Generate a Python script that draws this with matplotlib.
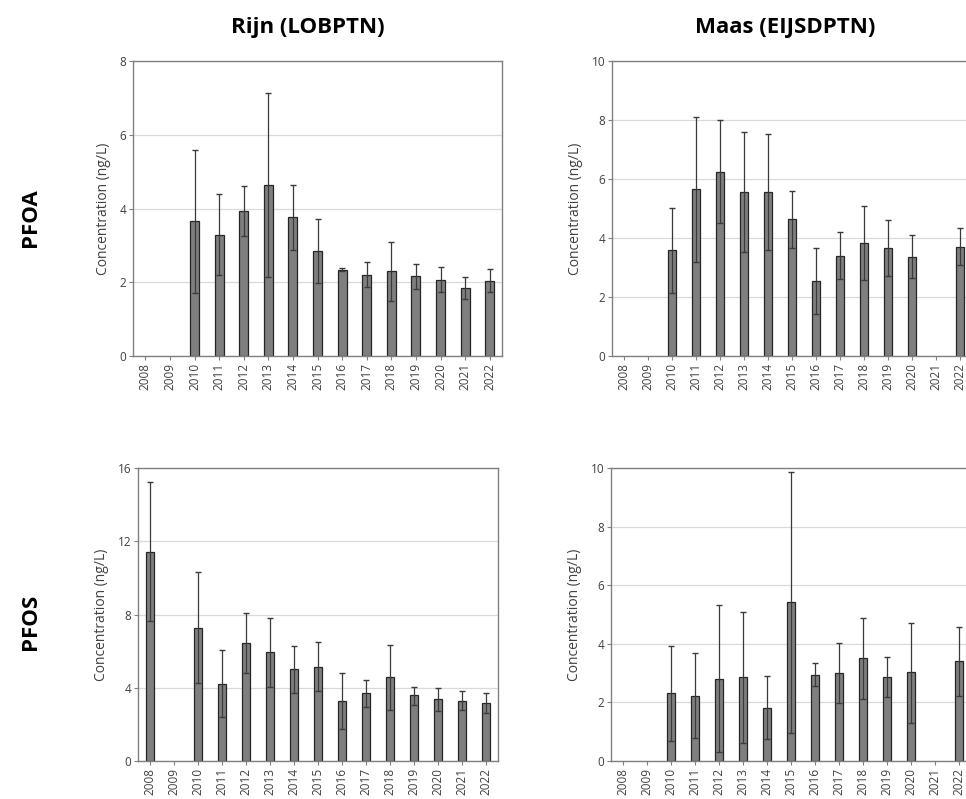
import numpy as np
import matplotlib
matplotlib.use('Agg')
import matplotlib.pyplot as plt

years = ['2008', '2009', '2010', '2011', '2012', '2013', '2014', '2015',
         '2016', '2017', '2018', '2019', '2020', '2021', '2022']
nan = np.nan

# Rijn (LOBPTN) PFOA: mean, lower and upper end of the error bar
rijn_pfoa = [nan, nan, 3.65, 3.28, 3.93, 4.64, 3.77, 2.84, 2.33, 2.20, 2.30, 2.16, 2.07, 1.84, 2.04]
rijn_pfoa_lo = [nan, nan, 1.70, 2.20, 3.25, 2.13, 2.88, 1.97, 2.31, 1.86, 1.50, 1.82, 1.73, 1.55, 1.73]
rijn_pfoa_hi = [nan, nan, 5.60, 4.39, 4.60, 7.13, 4.65, 3.71, 2.38, 2.54, 3.08, 2.49, 2.41, 2.14, 2.35]

# Maas (EIJSDPTN) PFOA
maas_pfoa = [nan, nan, 3.59, 5.65, 6.25, 5.56, 5.56, 4.64, 2.55, 3.40, 3.84, 3.65, 3.36, nan, 3.71]
maas_pfoa_lo = [nan, nan, 2.13, 3.20, 4.51, 3.51, 3.59, 3.67, 1.44, 2.60, 2.59, 2.70, 2.63, nan, 3.08]
maas_pfoa_hi = [nan, nan, 5.03, 8.11, 8.00, 7.59, 7.52, 5.61, 3.67, 4.19, 5.08, 4.61, 4.09, nan, 4.34]

# Rijn (LOBPTN) PFOS
rijn_pfos = [11.44, nan, 7.25, 4.23, 6.47, 5.94, 5.01, 5.15, 3.30, 3.72, 4.57, 3.59, 3.39, 3.30, 3.17]
rijn_pfos_lo = [7.67, nan, 4.24, 2.42, 4.83, 4.06, 3.72, 3.83, 1.77, 2.95, 2.79, 3.06, 2.75, 2.79, 2.60]
rijn_pfos_hi = [15.21, nan, 10.33, 6.05, 8.10, 7.81, 6.30, 6.50, 4.83, 4.44, 6.34, 4.06, 3.97, 3.81, 3.73]

# Maas (EIJSDPTN) PFOS
maas_pfos = [nan, nan, 2.31, 2.22, 2.80, 2.86, 1.82, 5.41, 2.95, 3.01, 3.52, 2.87, 3.03, nan, 3.41]
maas_pfos_lo = [nan, nan, 0.69, 0.80, 0.30, 0.63, 0.75, 0.95, 2.57, 1.99, 2.13, 2.18, 1.31, nan, 2.21]
maas_pfos_hi = [nan, nan, 3.94, 3.67, 5.31, 5.10, 2.89, 9.85, 3.35, 4.03, 4.87, 3.55, 4.72, nan, 4.58]

W, H = 966, 799
fig = plt.figure(figsize=(W / 100, H / 100), dpi=100)
fig.patch.set_facecolor('white')

label_font = ['Open Sans', 'DejaVu Sans']
tick_color = '#404040'


def px_axes(left, top, right, bottom):
    return fig.add_axes([left / W, 1 - bottom / H, (right - left) / W, (bottom - top) / H])


def panel(ax, mean, lo, hi, ymax, ystep):
    x = np.arange(len(years))
    mean = np.array(mean)
    err = [mean - np.array(lo), np.array(hi) - mean]
    ax.bar(x, mean, width=0.36, color='#7f7f7f', edgecolor='#262626', linewidth=0.9, zorder=2)
    ax.errorbar(x, mean, yerr=err, fmt='none', ecolor='#3a3a3a', elinewidth=0.9,
                capsize=2.2, capthick=1.0, zorder=3)
    ax.set_xlim(-0.5, len(years) - 0.5)
    ax.set_ylim(0, ymax)
    ax.set_yticks(np.arange(0, ymax + 0.01, ystep))
    ax.set_xticks(x)
    ax.set_xticklabels(years, rotation=90)
    ax.yaxis.grid(True, color='#d9d9d9', linewidth=0.9, zorder=0)
    ax.set_axisbelow(True)
    for s in ax.spines.values():
        s.set_color('#808080')
        s.set_linewidth(1.0)
    ax.tick_params(axis='both', colors='#808080', labelcolor=tick_color,
                   labelsize=8.5, length=3, width=0.8, pad=2)
    for lab in ax.get_xticklabels() + ax.get_yticklabels():
        lab.set_family(label_font)
    ax.set_ylabel('Concentration (ng/L)', fontsize=10, color=tick_color,
                  family=label_font, labelpad=6)


ax1 = px_axes(133, 61, 502, 356)
panel(ax1, rijn_pfoa, rijn_pfoa_lo, rijn_pfoa_hi, 8, 2)

ax2 = px_axes(612, 61, 972, 356)
panel(ax2, maas_pfoa, maas_pfoa_lo, maas_pfoa_hi, 10, 2)

ax3 = px_axes(138, 468, 498, 761)
panel(ax3, rijn_pfos, rijn_pfos_lo, rijn_pfos_hi, 16, 4)

ax4 = px_axes(611, 468, 971, 761)
panel(ax4, maas_pfos, maas_pfos_lo, maas_pfos_hi, 10, 2)

title_kw = dict(fontsize=16, fontweight='bold', family=label_font, color='black',
                ha='center', va='center')
fig.text(308 / W, 1 - 28 / H, 'Rijn (LOBPTN)', **title_kw)
fig.text(785 / W, 1 - 28 / H, 'Maas (EIJSDPTN)', **title_kw)
fig.text(30 / W, 1 - 218 / H, 'PFOA', rotation=90, **title_kw)
fig.text(30 / W, 1 - 622 / H, 'PFOS', rotation=90, **title_kw)

fig.savefig('out.png', dpi=100)
